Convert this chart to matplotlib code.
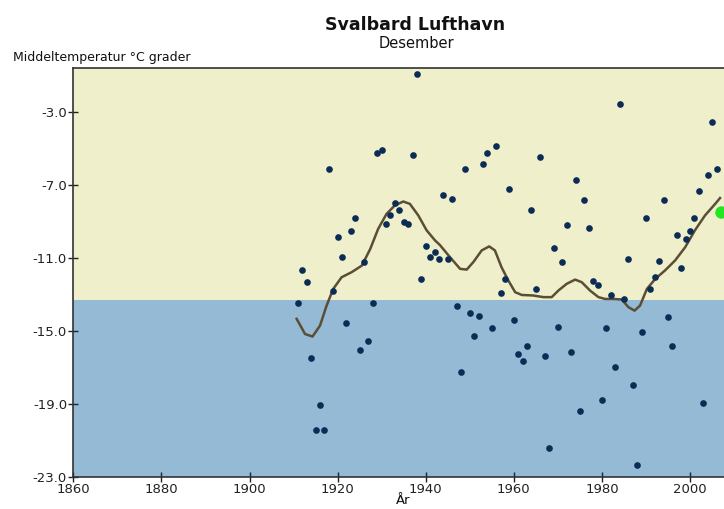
import matplotlib
matplotlib.use("Agg")
import matplotlib.pyplot as plt

years = list(range(1911, 2007))
temps = [
    -13.48, -11.67, -12.34, -16.47, -20.46, -19.05, -20.46, -6.14, -12.84, -9.84,
    -10.95, -14.55, -9.56, -8.85, -16.07, -11.26, -15.54, -13.48, -5.27, -5.08,
    -9.16, -8.68, -8.02, -8.38, -9.05, -9.16, -5.36, -0.95, -12.16, -10.37,
    -10.97, -10.66, -11.06, -7.59, -11.06, -7.77, -13.66, -17.28, -6.14, -14.04,
    -15.27, -14.17, -5.85, -5.27, -14.85, -4.86, -12.93, -12.16, -7.26, -14.44,
    -16.27, -16.68, -15.85, -8.38, -12.74, -5.47, -16.36, -21.45, -10.46, -14.77,
    -11.24, -9.23, -16.16, -6.75, -19.38, -7.86, -9.36, -12.25, -12.52, -18.80,
    -14.85, -13.04, -16.97, -2.56, -13.26, -11.06, -17.95, -22.36, -15.05, -8.85,
    -12.74, -12.07, -11.17, -7.86, -14.26, -15.85, -9.75, -11.56, -9.97, -9.56,
    -8.85, -7.33, -18.98, -6.46, -3.55, -6.14,
]
latest_year = [2007]
latest_temp = [-8.5]

curve_x = [1910.7, 1912.6, 1914.3, 1916.0, 1917.5, 1919.0, 1920.9, 1923.2, 1925.5,
           1927.4, 1929.2, 1931.1, 1933.0, 1934.9, 1936.4, 1938.3, 1940.2, 1942.1,
           1943.2, 1945.5, 1947.8, 1949.3, 1950.8, 1952.7, 1954.4, 1955.7, 1957.2,
           1958.75, 1960.3, 1961.8, 1964.4, 1966.7, 1968.6, 1970.1, 1972.0, 1973.9,
           1975.4, 1977.3, 1979.2, 1980.7, 1982.6, 1984.5, 1986.0, 1987.4, 1988.65,
           1990.2, 1992.1, 1994.3, 1996.6, 1998.9, 2001.1, 2003.4, 2005.7, 2006.8]
curve_y = [-14.35, -15.18, -15.32, -14.72, -13.62, -12.71, -12.07, -11.79, -11.43,
           -10.52, -9.42, -8.60, -8.13, -7.92, -8.05, -8.68, -9.50, -10.05,
           -10.30, -10.97, -11.61, -11.65, -11.24, -10.60, -10.38, -10.60, -11.52,
           -12.25, -12.89, -13.04, -13.07, -13.16, -13.16, -12.80, -12.43, -12.20,
           -12.34, -12.80, -13.16, -13.26, -13.26, -13.29, -13.71, -13.90, -13.62,
           -12.71, -12.16, -11.70, -11.15, -10.42, -9.50, -8.68, -8.05, -7.73]

normal_value = -13.33
x_ticks = [1860, 1880, 1900, 1920, 1940, 1960, 1980, 2000]
y_ticks = [-3.0, -7.0, -11.0, -15.0, -19.0, -23.0]

plt.rcParams["axes.unicode_minus"] = False

fig = plt.figure(figsize=(7.24, 5.09), dpi=100)
ax = fig.add_axes([73.3 / 724, 1 - 476.7 / 509, 1 - 73.3 / 724, (476.7 - 68.3) / 509])

xmin, xmax = 1860, 2007.7
ymin, ymax = -23.0, -0.62
ax.set_xlim(xmin, xmax)
ax.set_ylim(ymin, ymax)

ax.axhspan(ymin, normal_value, color="#94bad5", zorder=0, lw=0)
ax.axhspan(normal_value, ymax, color="#f0efcb", zorder=0, lw=0)

ax.plot(curve_x, curve_y, color="#5b4e36", lw=1.8, zorder=2)
ax.plot(years, temps, "o", color="#0b2c55", markersize=4.8, markeredgewidth=0, zorder=3)
ax.plot(latest_year, latest_temp, "o", color="#22e622", markersize=9, markeredgewidth=0, zorder=4)

ax.set_xticks(x_ticks)
ax.set_yticks(y_ticks)
ax.set_yticklabels([f"{v:.1f}" for v in y_ticks])
ax.tick_params(axis="both", direction="inout", length=7, width=1, labelsize=9.5,
               colors="#222222", pad=1)
ax.spines["right"].set_visible(False)
for s in ["left", "bottom", "top"]:
    ax.spines[s].set_color("#333333")
    ax.spines[s].set_linewidth(1.2)

fig.text(415 / 724, 1 - 25 / 509, "Svalbard Lufthavn", ha="center", va="center",
         fontsize=12.5, fontweight="bold", color="#111111")
fig.text(416 / 724, 1 - 44 / 509, "Desember", ha="center", va="center",
         fontsize=10.5, color="#111111")
fig.text(13 / 724, 1 - 57 / 509, "Middeltemperatur °C grader", ha="left", va="center",
         fontsize=9, color="#111111")
fig.text(403 / 724, 1 - 501 / 509, "År", ha="center", va="center",
         fontsize=9.5, color="#111111")

fig.savefig("out.png", dpi=100)
